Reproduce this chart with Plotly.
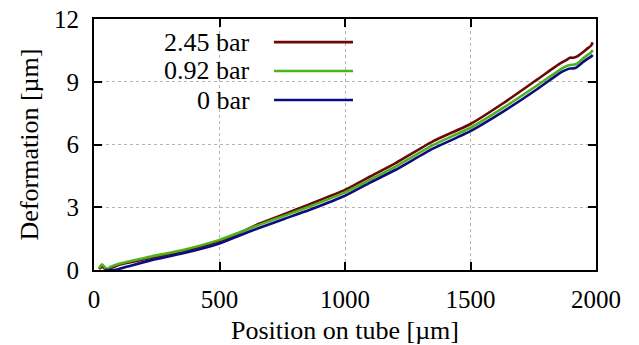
import plotly.graph_objects as go

# Position on tube [µm]
position = [20, 32, 45, 55, 65, 80, 100, 150, 225, 355, 500, 580, 660, 760, 860,
            1000, 1100, 1200, 1350, 1500, 1630, 1765, 1857, 1883, 1896, 1910,
            1923, 1949, 1969, 1980, 1987]

# Deformation [µm] for each pressure
def_245 = [0.05, 0.15, 0.05, 0.02, 0.08, 0.15, 0.25, 0.38, 0.57, 0.90, 1.38, 1.78,
           2.22, 2.68, 3.15, 3.83, 4.47, 5.10, 6.15, 6.98, 7.97, 9.10, 9.88,
           10.05, 10.15, 10.15, 10.20, 10.42, 10.62, 10.72, 10.88]
def_092 = [0.08, 0.27, 0.10, 0.06, 0.15, 0.22, 0.30, 0.44, 0.64, 0.96, 1.44, 1.80,
           2.17, 2.60, 3.04, 3.71, 4.32, 4.93, 5.97, 6.80, 7.75, 8.82, 9.58,
           9.75, 9.80, 9.81, 9.85, 10.12, 10.30, 10.40, 10.52]
def_0 = [None, None, 0.0, 0.0, 0.0, 0.0, 0.05, 0.22, 0.46, 0.80, 1.27, 1.65,
         2.02, 2.45, 2.88, 3.55, 4.18, 4.78, 5.80, 6.64, 7.57, 8.64, 9.43,
         9.58, 9.63, 9.64, 9.69, 9.95, 10.12, 10.20, 10.28]

labels = ["2.45 bar", "0.92 bar", "0 bar"]
series = [def_245, def_092, def_0]
colors = ["#6a0808", "#4db31a", "#0c0c80"]

x_ticks = [0, 500, 1000, 1500, 2000]
y_ticks = [0, 3, 6, 9, 12]

FONT = "Liberation Serif, Times New Roman, serif"

fig = go.Figure()
for lab, ys, c in zip(labels, series, colors):
    fig.add_trace(go.Scatter(x=position, y=ys, mode="lines", name=lab,
                             line=dict(color=c, width=2.6, shape="spline", smoothing=0.5),
                             showlegend=False))

# gnuplot-style legend: right-aligned text followed by a line sample
leg_y = [0.908, 0.793, 0.677]
for lab, c, yy in zip(labels, colors, leg_y):
    fig.add_annotation(x=0.3147, y=yy, xref="paper", yref="paper", text=lab,
                       showarrow=False, xanchor="right", yanchor="middle",
                       font=dict(family=FONT, size=26, color="black"))
    fig.add_shape(type="line", xref="paper", yref="paper", x0=0.3586, x1=0.5159,
                  y0=yy, y1=yy, line=dict(color=c, width=2.6))

axis_common = dict(
    showline=True, linecolor="black", linewidth=2, mirror="ticks",
    ticks="inside", ticklen=8, tickwidth=1.5, tickcolor="black",
    showgrid=True, gridcolor="#b4b4b4", gridwidth=1, griddash="dot",
    zeroline=False, automargin=False,
    tickfont=dict(family=FONT, size=25, color="black"),
)

fig.update_xaxes(range=[0, 2000], tickvals=x_ticks,
                 title=dict(text="Position on tube [µm]", standoff=9,
                            font=dict(family=FONT, size=26, color="black")),
                 ticklabelstandoff=6, **axis_common)
fig.update_yaxes(range=[0, 12], tickvals=y_ticks,
                 title=dict(text="Deformation [µm]", standoff=8,
                            font=dict(family=FONT, size=26, color="black")),
                 ticklabelstandoff=8, **axis_common)

fig.update_layout(width=639, height=345,
                  margin=dict(l=94, r=43, t=19, b=75, pad=0, autoexpand=False),
                  plot_bgcolor="white", paper_bgcolor="white",
                  font=dict(family=FONT, size=25, color="black"))

fig.write_html("out.html")
